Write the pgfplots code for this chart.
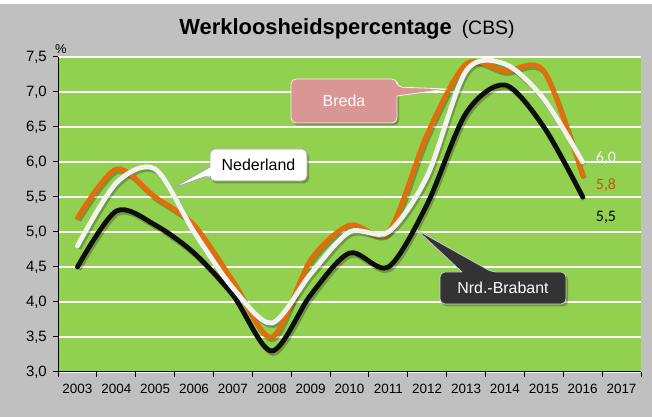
\documentclass[border=0pt]{standalone}
\usepackage{pgfplots}
\pgfplotsset{compat=1.18}
\usepackage{fontspec}
\setmainfont{Liberation Sans}
\newfontfamily\calib{Carlito}
\definecolor{bggray}{HTML}{C0C0C0}
\definecolor{plotgreen}{HTML}{92D050}
\definecolor{lorange}{HTML}{E46C0A}
\definecolor{lwhite}{HTML}{F2F2F2}
\definecolor{lblack}{HTML}{0D0D0D}
\definecolor{bredafill}{HTML}{D99694}
\definecolor{nrdfill}{HTML}{333333}
\definecolor{labor}{HTML}{C0580E}

\pgfplotstableread{
year nl breda nb
2003 4.8 5.2 4.5
2004 5.7 5.9 5.3
2005 5.9 5.5 5.1
2006 5.0 5.1 4.7
2007 4.2 4.3 4.1
2008 3.7 3.5 3.3
2009 4.4 4.6 4.1
2010 5.0 5.1 4.7
2011 5.0 5.0 4.5
2012 5.8 6.4 5.4
2013 7.3 7.4 6.7
2014 7.4 7.3 7.1
2015 6.9 7.3 6.5
2016 6.0 5.8 5.5
}\datatable

\begin{document}
\begin{tikzpicture}
\useasboundingbox (-58bp,-45bp) rectangle (594bp,372bp);
\fill[white] (-58bp,-45bp) rectangle (594bp,372bp);
\fill[bggray] (-58bp,-45bp) rectangle (594bp,368bp);
\begin{axis}[
  at={(0,0)}, anchor=south west,
  scale only axis, width=583bp, height=315bp,
  xmin=2002.5, xmax=2017.5, ymin=3, ymax=7.5,
  axis lines=left, axis line style={-, black, line width=1bp},
  axis background/.style={fill=plotgreen},
  xtick={2003,...,2017},
  xticklabels={2003,2004,2005,2006,2007,2008,2009,2010,2011,2012,2013,2014,2015,2016,2017},
  minor xtick={2002.5,2003.5,...,2017.5},
  ytick={3,3.5,...,7.5},
  yticklabels={{3,0},{3,5},{4,0},{4,5},{5,0},{5,5},{6,0},{6,5},{7,0},{7,5}},
  tick align=outside,
  major tick length=5bp, minor tick length=5bp,
  major x tick style={draw=none},
  minor x tick style={black, line width=1bp},
  major y tick style={black, line width=1bp},
  ymajorgrids, major grid style={white, line width=1.2bp},
  xticklabel style={inner sep=0pt, yshift=-7bp, font=\fontsize{13.5}{15}\selectfont},
  yticklabel style={inner sep=0pt, xshift=-6bp, font=\fontsize{15}{17}\selectfont},
  clip=false,
]
\addplot[draw=black, opacity=0.25, line width=4.8bp, smooth, transform canvas={xshift=1.5bp,yshift=-2.5bp}, forget plot] table[x=year,y=breda]{\datatable};
\addplot[draw=black, opacity=0.25, line width=4.8bp, smooth, transform canvas={xshift=1.5bp,yshift=-2.5bp}, forget plot] table[x=year,y=nl]{\datatable};
\addplot[draw=black, opacity=0.25, line width=4.8bp, smooth, transform canvas={xshift=1.5bp,yshift=-2.5bp}, forget plot] table[x=year,y=nb]{\datatable};
\addplot[draw=lblack, line width=4.8bp, smooth, line cap=round] table[x=year,y=nb]{\datatable};
\addplot[draw=lorange, line width=4.8bp, smooth, line cap=round] table[x=year,y=breda]{\datatable};
\addplot[draw=lwhite, line width=4.8bp, smooth, line cap=round] table[x=year,y=nl]{\datatable};
\end{axis}
\begin{scope}[x=1bp,y=1bp]
% title
\node[anchor=base, inner sep=0pt] at (289,338) {\fontsize{22}{24}\selectfont\textbf{Werkloosheidspercentage}\hspace{10bp}{\fontsize{19.5}{22}\selectfont(CBS)}};
\node[inner sep=0pt] at (3,323) {\fontsize{13}{15}\selectfont\%};
% callout shadows
\fill[black, opacity=0.25, rounded corners=5bp, transform canvas={xshift=2bp,yshift=-2.5bp}] (233,249) rectangle (339,293);
\fill[black, opacity=0.25, rounded corners=5bp, transform canvas={xshift=2bp,yshift=-2.5bp}] (152,191) rectangle (249,223);
\fill[black, opacity=0.25, rounded corners=5bp, transform canvas={xshift=2bp,yshift=-2.5bp}] (382,68) rectangle (508,100);
% Breda
\filldraw[fill=bredafill, draw=white!85!bredafill, line width=0.8bp, line join=round]
  [rounded corners=5bp] (233,271) -- (233,293) -- (339,293) -- (339,285) [sharp corners] -- (389,283) -- (339,276) [rounded corners=5bp] -- (339,249) -- (233,249) -- cycle;
\node[text=white, font=\fontsize{16}{18}\selectfont] at (286,271) {Breda};
% Nederland
\filldraw[fill=white, draw=black!35, line width=0.8bp, line join=round]
  [rounded corners=5bp] (200,223) -- (249,223) -- (249,191) -- (152,191) -- (152,197) [sharp corners] -- (115,184) -- (152,205) [rounded corners=5bp] -- (152,223) -- cycle;
\node[text=black, font=\fontsize{16}{18}\selectfont] at (200.5,207) {Nederland};
% Nrd.-Brabant
\filldraw[fill=nrdfill, draw=black!20, line width=0.8bp, line join=round]
  [rounded corners=5bp] (445,68) -- (508,68) -- (508,100) -- (434,100) [sharp corners] -- (359,142) -- (404,100) [rounded corners=5bp] -- (382,100) -- (382,68) -- cycle;
\node[text=white, font=\fontsize{16}{18}\selectfont] at (445,84) {Nrd.-Brabant};
% data labels
\node[text=lwhite, font=\calib\fontsize{16}{18}\selectfont] at (548,214) {6,0};
\node[text=labor, font=\calib\fontsize{16}{18}\selectfont] at (548,187) {5,8};
\node[text=black, font=\calib\fontsize{16}{18}\selectfont] at (548,155) {5,5};
\end{scope}
\end{tikzpicture}
\end{document}
